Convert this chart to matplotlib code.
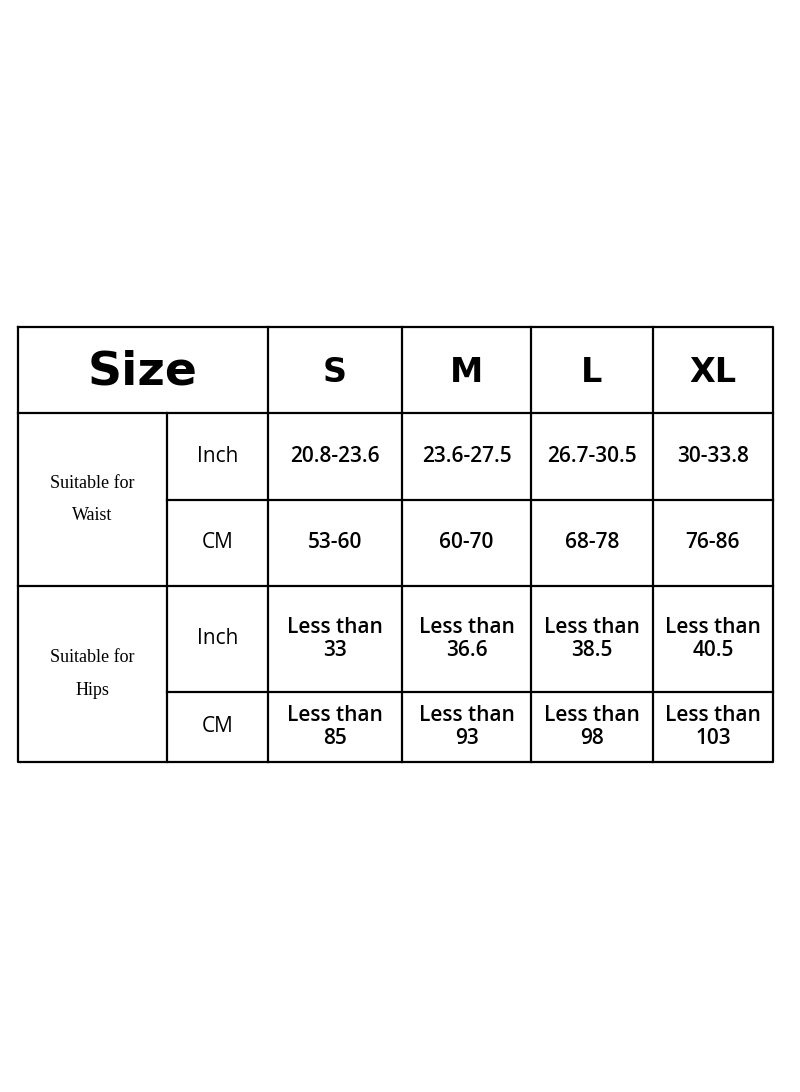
import matplotlib.pyplot as plt

sizes = ["S", "M", "L", "XL"]
groups = ["Suitable for\nWaist", "Suitable for\nHips"]
units = ["Inch", "CM", "Inch", "CM"]
cells = [
    ["20.8-23.6", "23.6-27.5", "26.7-30.5", "30-33.8"],
    ["53-60", "60-70", "68-78", "76-86"],
    ["Less than\n33", "Less than\n36.6", "Less than\n38.5", "Less than\n40.5"],
    ["Less than\n85", "Less than\n93", "Less than\n98", "Less than\n103"],
]

# grid lines in pixel space
col_x = [18, 167, 268, 402, 531, 653, 773]
row_y = [327, 413, 500, 586, 692, 762]

fig = plt.figure(figsize=(8, 10.92), dpi=100)
ax = fig.add_axes([0, 0, 1, 1])
ax.set_xlim(0, 800)
ax.set_ylim(1092, 0)
ax.axis("off")

lw = 1.6
# outer box
ax.plot([col_x[0], col_x[-1], col_x[-1], col_x[0], col_x[0]],
        [row_y[0], row_y[0], row_y[-1], row_y[-1], row_y[0]], color="black", lw=lw)
# horizontal lines
for i in range(1, len(row_y) - 1):
    start = col_x[1] if i in (2, 4) else col_x[0]
    ax.plot([start, col_x[-1]], [row_y[i], row_y[i]], color="black", lw=lw)
# vertical lines
for j in range(1, len(col_x) - 1):
    top = row_y[1] if j == 1 else row_y[0]
    ax.plot([col_x[j], col_x[j]], [top, row_y[-1]], color="black", lw=lw)

def cx(j):
    return (col_x[j] + col_x[j + 1]) / 2

def cy(i):
    return (row_y[i] + row_y[i + 1]) / 2

narrow = ["Liberation Sans Narrow", "DejaVu Sans"]
ax.text((col_x[0] + col_x[2]) / 2, cy(0) + 2, "Size", ha="center", va="center",
        fontsize=34, fontweight="bold", family=narrow)
for j, s in enumerate(sizes):
    ax.text(cx(j + 2), cy(0) + 2, s, ha="center", va="center",
            fontsize=24, fontweight="bold", family=narrow)

for g, label in enumerate(groups):
    y = (row_y[1 + 2 * g] + row_y[3 + 2 * g]) / 2
    ax.text(cx(0), y, label, ha="center", va="center", fontsize=13,
            family="Liberation Serif", linespacing=2.2)

for i, u in enumerate(units):
    ax.text(cx(1), cy(i + 1), u, ha="center", va="center", fontsize=15, family="Open Sans")
    for j, v in enumerate(cells[i]):
        ax.text(cx(j + 2), cy(i + 1), v, ha="center", va="center", fontsize=15,
                family="Open Sans", fontweight="semibold", linespacing=1.1)

fig.savefig("out.png", dpi=100)
